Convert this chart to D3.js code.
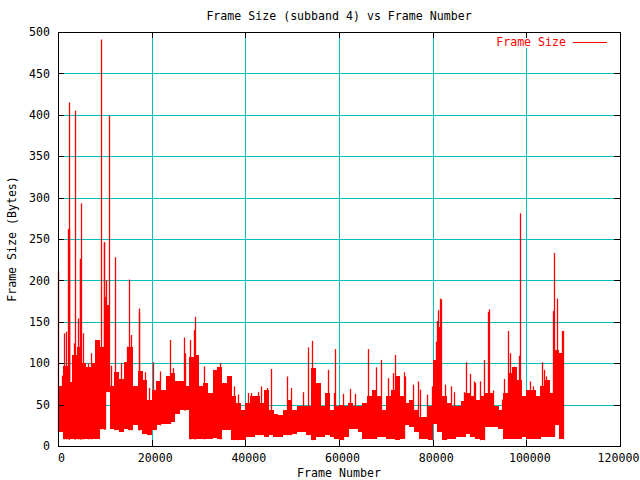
<!DOCTYPE html>
<html>
<head>
<meta charset="utf-8">
<script src="https://cdn.jsdelivr.net/npm/d3@7/dist/d3.min.js"></script>
<style>
html,body{margin:0;padding:0;background:#fff;}
svg text{font-family:"DejaVu Sans Mono","Liberation Mono",monospace;font-size:11.6px;}
</style>
</head>
<body>
<script>
// ---- data ----
const binSize = 1000; // frames per bin
// upper level of the dense trace in each 1000-frame bin
const binHi = [73,97,77,110,120,100,95,100,128,120,
  170,73,89,81,101,120,73,90,80,56,
  68,78,68,84,88,78,78,72,108,110,
  72,76,64,92,96,76,84,60,52,43,
  52,60,60,52,68,43,39,37,43,56,
  43,48,48,48,94,76,48,64,43,48,
  50,48,52,48,48,52,60,68,60,43,
  60,68,84,60,52,56,43,35,35,48,
  104,144,60,52,48,48,54,64,60,56,
  60,64,64,48,44,64,88,96,80,60,
  68,68,60,72,80,64,116,112];
// lower level of the trace in each bin
const binLo = [17,8,8,8,8,8,8,8,8,20,
  65,21,19,17,21,19,25,19,15,13,
  19,25,27,27,29,39,43,43,8,8,
  8,8,8,10,8,19,19,7,7,7,
  11,11,13,13,11,13,11,11,13,13,
  15,17,17,13,7,11,11,13,11,9,
  7,11,21,21,17,9,9,9,11,11,
  9,9,7,9,25,23,17,9,9,7,
  27,17,7,9,9,11,11,15,11,9,
  7,23,23,23,21,9,9,9,9,11,
  9,9,9,11,11,11,25,9];
// narrow peaks: frame number and frame size
const peakFrames = [100,800,1300,1700,2150,2250,2350,2420,3400,3700,
  4300,4600,4750,4900,5400,6500,7050,9200,9750,9850,
  9950,10100,10300,10900,11300,12270,13500,14800,15200,15500,
  17200,17400,18600,19500,20200,21700,23950,24500,26800,27100,
  28150,29000,29150,31200,34500,37600,38500,40600,41300,42600,
  43400,44700,45550,48950,49700,52400,53400,54300,57600,59000,
  59200,60900,62400,63500,66250,67850,68900,70500,71600,71900,
  73900,74100,75700,76850,77300,78850,79950,80800,80850,81130,
  81500,81850,82700,83950,84550,86700,87200,88050,88850,89100,
  90000,90950,91800,91950,92900,94850,95300,96150,96450,97300,
  98450,98640,100700,101400,103350,103850,104300,105760,105950,106480,
  107620,107900];
const peakValues = [211,85,136,138,262,262,240,415,124,405,
  154,226,226,293,136,100,112,491,246,246,
  180,178,200,399,97,228,100,120,201,134,
  161,166,89,70,101,90,128,94,131,112,
  128,140,156,96,100,72,62,64,64,65,
  72,70,93,84,70,65,119,127,92,64,
  117,63,69,63,117,95,104,82,88,110,
  89,84,74,78,68,62,72,126,151,164,
  178,177,74,72,65,65,101,87,78,76,
  78,104,162,165,67,56,81,139,112,96,
  109,281,78,72,101,92,84,163,233,178,
  139,139];
const dataEnd = 108000;
const xTicks = [0,20000,40000,60000,80000,100000,120000];
const yTicks = [0,50,100,150,200,250,300,350,400,450,500];
const titleText = "Frame Size (subband 4) vs Frame Number";
const xLabel = "Frame Number";
const yLabel = "Frame Size (Bytes)";
const seriesName = "Frame Size";

// ---- layout ----
const W = 640, H = 480;
const L = 58, R = 620, T = 32, B = 446;
const gridColor = "#00c0c0";
const red = "#ff0000";

const svg = d3.select("body").append("svg")
  .attr("width", W).attr("height", H)
  .attr("shape-rendering", "crispEdges");

const x = d3.scaleLinear().domain([0, 120000]).range([L, R]);
const y = d3.scaleLinear().domain([0, 500]).range([B, T]);

// grid
const grid = svg.append("g").attr("stroke", gridColor).attr("stroke-width", 1);
grid.selectAll("line.h").data(yTicks.filter(v => v > 0 && v < 500)).enter()
  .append("line").attr("x1", L + 6).attr("x2", R - 6)
  .attr("y1", d => Math.round(y(d)) + 0.5).attr("y2", d => Math.round(y(d)) + 0.5);
grid.selectAll("line.v").data(xTicks.filter(v => v > 0 && v < 120000)).enter()
  .append("line").attr("y1", T + 6).attr("y2", B - 6)
  .attr("x1", d => Math.round(x(d)) + 0.5).attr("x2", d => Math.round(x(d)) + 0.5);

// data: bins as filled ranges
const bins = binHi.map((h, i) => ({
  x0: i * binSize,
  x1: Math.min((i + 1) * binSize, dataEnd),
  hi: h, lo: binLo[i]
}));
const dataG = svg.append("g");
dataG.selectAll("rect.bin").data(bins).enter().append("rect")
  .attr("x", d => x(d.x0))
  .attr("width", d => x(d.x1) - x(d.x0) + 0.3)
  .attr("y", d => y(d.hi))
  .attr("height", d => y(d.lo) - y(d.hi))
  .attr("fill", red);

// peaks as thin strokes
const peaks = peakFrames.map((f, i) => ({f, v: peakValues[i], lo: binLo[Math.min(Math.floor(f / binSize), binLo.length - 1)]}));
dataG.selectAll("line.peak").data(peaks).enter().append("line")
  .attr("x1", d => Math.round(x(d.f)) + 0.5).attr("x2", d => Math.round(x(d.f)) + 0.5)
  .attr("y1", d => y(d.lo)).attr("y2", d => y(d.v))
  .attr("stroke", red).attr("stroke-width", 1.3)
  .attr("shape-rendering", "auto");

// legend background (clears grid) + legend
svg.append("rect").attr("x", 488).attr("y", 38).attr("width", 126).attr("height", 10).attr("fill", "#fff");
svg.append("text").attr("x", 566).attr("y", 42).attr("dy", "0.36em")
  .attr("text-anchor", "end").attr("fill", red).text(seriesName);
svg.append("line").attr("x1", 573).attr("x2", 607).attr("y1", 42.5).attr("y2", 42.5)
  .attr("stroke", red).attr("stroke-width", 1);

// axes (ticks inward on all four sides)
function styleAxis(g) {
  g.select(".domain").remove();
  g.selectAll(".tick line").attr("stroke", "#000");
  g.selectAll(".tick text").attr("fill", "#000")
    .style("font-family", '"DejaVu Sans Mono","Liberation Mono",monospace')
    .style("font-size", "11.6px");
}
svg.append("g").attr("transform", `translate(0,${B})`)
  .call(d3.axisBottom(x).tickValues(xTicks).tickSize(-6).tickPadding(8).tickFormat(d3.format("d")))
  .call(styleAxis)
  .call(g => g.selectAll(".tick text").attr("dx", d => d === 120000 ? -2 : 3));
svg.append("g").attr("transform", `translate(0,${T})`)
  .call(d3.axisTop(x).tickValues(xTicks).tickSize(-6).tickFormat(""))
  .call(styleAxis);
svg.append("g").attr("transform", `translate(${L},0)`)
  .call(d3.axisLeft(y).tickValues(yTicks).tickSize(-6).tickPadding(8).tickFormat(d3.format("d")))
  .call(styleAxis);
svg.append("g").attr("transform", `translate(${R},0)`)
  .call(d3.axisRight(y).tickValues(yTicks).tickSize(-6).tickFormat(""))
  .call(styleAxis);

// border
svg.append("rect").attr("x", L + 0.5).attr("y", T + 0.5)
  .attr("width", R - L).attr("height", B - T)
  .attr("fill", "none").attr("stroke", "#000");

// titles
svg.append("text").attr("x", (L + R) / 2).attr("y", 16).attr("dy", "0.36em")
  .attr("text-anchor", "middle").text(titleText);
svg.append("text").attr("x", (L + R) / 2).attr("y", 473).attr("dy", "0.36em")
  .attr("text-anchor", "middle").text(xLabel);
svg.append("text").attr("transform", `translate(12,${(T + B) / 2}) rotate(-90)`)
  .attr("dy", "0.36em").attr("text-anchor", "middle").text(yLabel);
</script>
</body>
</html>
